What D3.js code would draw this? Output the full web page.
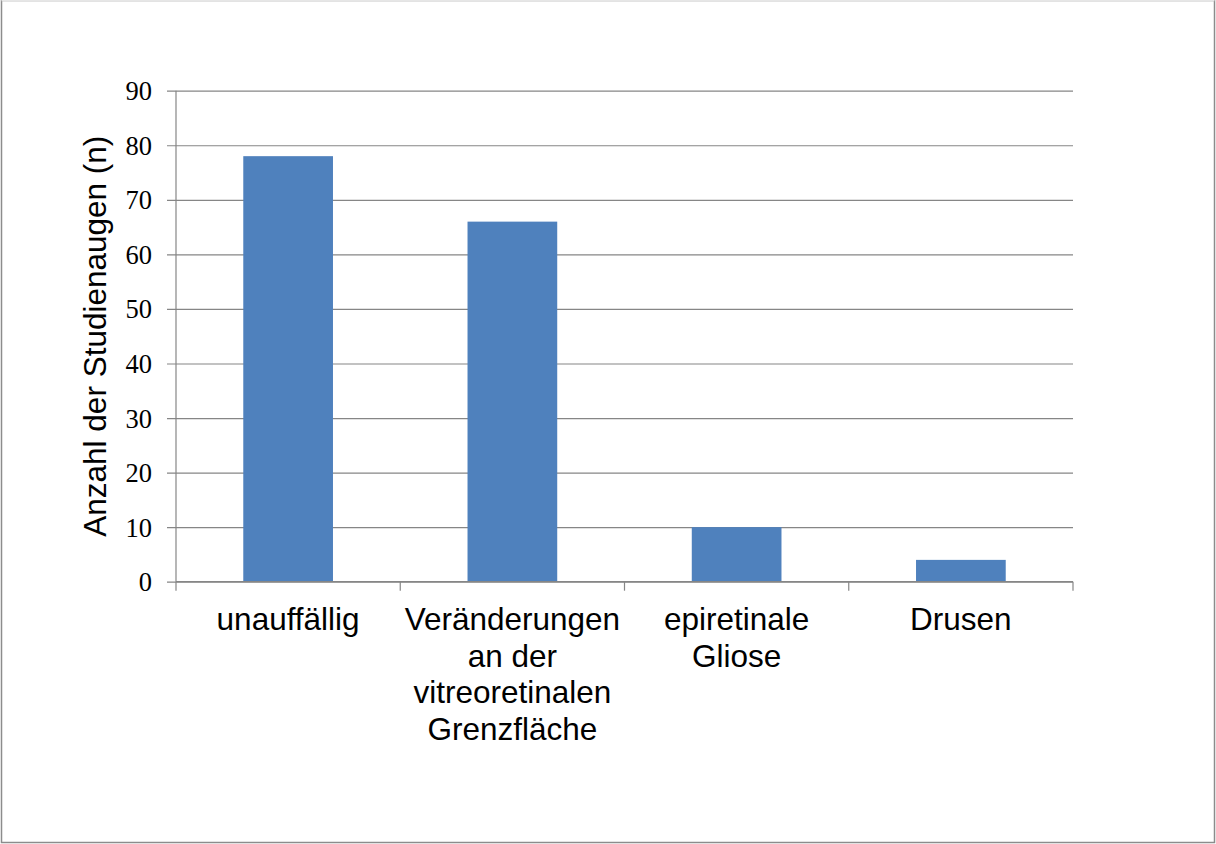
<!DOCTYPE html>
<html>
<head>
<meta charset="utf-8">
<script src="https://cdn.jsdelivr.net/npm/d3@7"></script>
<style>
  html, body { margin: 0; padding: 0; background: #fff; }
  svg { display: block; }
</style>
</head>
<body>
<svg id="chart" width="1216" height="844"></svg>
<script>
// Befunde der Studienaugen
const categories = [
  "unauffällig",
  "Veränderungen an der vitreoretinalen Grenzfläche",
  "epiretinale Gliose",
  "Drusen"
];
const values = [78, 66, 10, 4];
const yTicks = [0, 10, 20, 30, 40, 50, 60, 70, 80, 90];
const yTitle = "Anzahl der Studienaugen (n)";

const svg = d3.select("#chart");
const W = 1216, H = 844;
const plot = { left: 176, right: 1073, top: 90.7, bottom: 581.7 };

// outer frame
svg.append("rect")
  .attr("x", 1.5).attr("y", 0.5)
  .attr("width", 1213).attr("height", 842)
  .attr("fill", "#fff").attr("stroke", "#8c8c8c").attr("stroke-width", 1.5);
svg.append("line")
  .attr("x1", 1.5).attr("x2", 1214.5).attr("y1", 0.5).attr("y2", 0.5)
  .attr("stroke", "#e6e6e6").attr("stroke-width", 1.5);

const x = d3.scaleBand()
  .domain(categories)
  .range([plot.left, plot.right])
  .paddingInner(0).paddingOuter(0);

const y = d3.scaleLinear()
  .domain([0, 90])
  .range([plot.bottom, plot.top]);

const gridColor = "#868686";

// horizontal gridlines + left ticks
const yAxis = d3.axisLeft(y)
  .tickValues(yTicks)
  .tickSize(-(plot.right - plot.left))
  .tickPadding(24)
  .tickFormat(d3.format("d"));

const gy = svg.append("g")
  .attr("transform", `translate(${plot.left},0)`)
  .call(yAxis);
gy.attr("font-size", null).attr("font-family", null);
gy.select(".domain").remove();
gy.selectAll(".tick line")
  .attr("stroke", gridColor).attr("stroke-width", 1.2)
  .attr("x1", -9);
gy.selectAll(".tick text")
  .style("font-family", "'Liberation Serif', 'Times New Roman', serif")
  .style("font-size", "26.5px")
  .attr("fill", "#000")
  .attr("dy", "0.34em");

// bars
const barW = x.bandwidth() * 0.4;
svg.append("g").selectAll("rect")
  .data(categories.map((c, i) => ({ c, v: values[i] })))
  .join("rect")
  .attr("x", d => x(d.c) + (x.bandwidth() - barW) / 2)
  .attr("y", d => y(d.v))
  .attr("width", barW)
  .attr("height", d => y(0) - y(d.v))
  .attr("fill", "#4F81BD");

// vertical axis line
svg.append("line")
  .attr("x1", plot.left).attr("x2", plot.left)
  .attr("y1", plot.top).attr("y2", plot.bottom)
  .attr("stroke", gridColor).attr("stroke-width", 1.2);

// category axis
const xAxis = d3.axisBottom(x).tickSize(0).tickFormat("");
const gx = svg.append("g")
  .attr("transform", `translate(0,${plot.bottom})`)
  .call(xAxis);
gx.select(".domain")
  .attr("stroke", gridColor).attr("stroke-width", 1.2)
  .attr("d", `M${plot.left},0H${plot.right}`);
gx.selectAll(".tick").remove();

// category boundary ticks
const bounds = categories.map(c => x(c)).concat([plot.right]);
svg.append("g").selectAll("line")
  .data(bounds)
  .join("line")
  .attr("x1", d => d).attr("x2", d => d)
  .attr("y1", plot.bottom).attr("y2", plot.bottom + 9)
  .attr("stroke", gridColor).attr("stroke-width", 1.2);

// wrapped category labels
const labelFont = "'Liberation Sans', Arial, sans-serif";
const labelSize = 31.5;
const lineH = 36.5;
const measure = svg.append("text")
  .attr("font-family", labelFont).attr("font-size", labelSize)
  .attr("visibility", "hidden");
function textWidth(s) { measure.text(s); return measure.node().getComputedTextLength(); }
function wrap(str, maxW) {
  const words = str.split(" ");
  const lines = [];
  let cur = "";
  words.forEach(w => {
    const test = cur ? cur + " " + w : w;
    if (cur && textWidth(test) > maxW) { lines.push(cur); cur = w; }
    else cur = test;
  });
  if (cur) lines.push(cur);
  return lines;
}

const labels = svg.append("g");
categories.forEach(c => {
  const lines = wrap(c, x.bandwidth() - 4);
  const t = labels.append("text")
    .attr("font-family", labelFont).attr("font-size", labelSize)
    .attr("fill", "#000").attr("text-anchor", "middle");
  lines.forEach((ln, i) => {
    t.append("tspan")
      .attr("x", x(c) + x.bandwidth() / 2)
      .attr("y", 630 + i * lineH)
      .text(ln);
  });
});
measure.remove();

// y-axis title
svg.append("text")
  .attr("transform", `translate(106,${(plot.top + plot.bottom) / 2}) rotate(-90)`)
  .attr("text-anchor", "middle")
  .attr("font-family", labelFont).attr("font-size", labelSize)
  .attr("fill", "#000")
  .text(yTitle);
</script>
</body>
</html>
